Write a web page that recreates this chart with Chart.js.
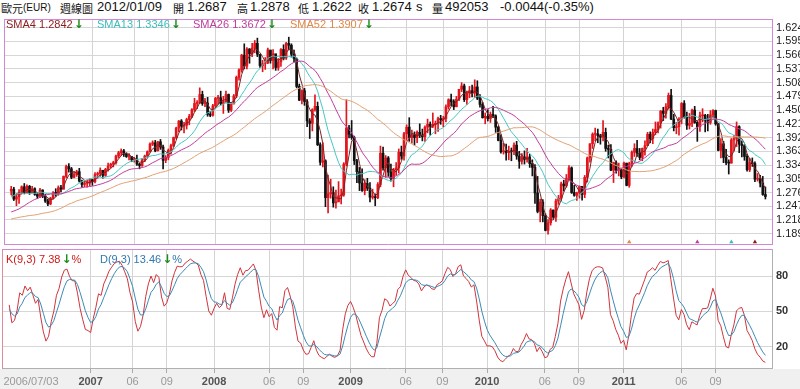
<!DOCTYPE html>
<html>
<head>
<meta charset="utf-8">
<script src="https://cdn.jsdelivr.net/npm/chart.js@4.4.0/dist/chart.umd.min.js"></script>
<style>
  body { margin: 0; width: 800px; height: 389px; background: #fff; position: relative; overflow: hidden;
         font-family: "Liberation Sans", Arial, "Noto Sans CJK TC", sans-serif; }
  #strip { position: absolute; left: 0; top: 369px; width: 800px; height: 20px; background: #f0f0f0; }
  canvas { position: absolute; left: 0; }
  #priceChart { top: 15px; }
  #kdChart { top: 249px; }
  .t { position: absolute; white-space: nowrap; line-height: 14px; }
  .hd { font-size: 13px; color: #111; top: 0; }
  .cj { font-size: 11px; font-family: "Noto Sans CJK TC", sans-serif; top: 1px; }
  .lg { font-size: 11px; top: 17px; }
  .kd { font-size: 11px; top: 252px; }
  .ar { color: #1c8c1c; font-weight: bold; font-family: "DejaVu Sans", sans-serif; font-size: 12px; margin-left: 1px; }
</style>
</head>
<body>
<div id="strip"></div>

<span class="t hd cj" style="left:1px">歐元</span>
<span class="t hd" style="left:23px;font-size:10px;top:1px">(EUR)</span>
<span class="t hd cj" style="left:60px">週線圖</span>
<span class="t hd" style="left:97px">2012/01/09</span>
<span class="t hd cj" style="left:173px">開</span>
<span class="t hd" style="left:187px">1.2687</span>
<span class="t hd cj" style="left:237px">高</span>
<span class="t hd" style="left:250px">1.2878</span>
<span class="t hd cj" style="left:298px">低</span>
<span class="t hd" style="left:312px">1.2622</span>
<span class="t hd cj" style="left:358px">收</span>
<span class="t hd" style="left:372px">1.2674</span>
<span class="t hd" style="left:416px">s</span>
<span class="t hd cj" style="left:432px">量</span>
<span class="t hd" style="left:445px">492053</span>
<span class="t hd" style="left:500px">-0.0044</span>
<span class="t hd" style="left:544px">(-0.35%)</span>

<canvas id="priceChart" width="800" height="234" style="width:800px;height:234px"></canvas>
<canvas id="kdChart" width="800" height="140" style="width:800px;height:140px"></canvas>

<span class="t lg" style="left:6px;color:#8a1c1c">SMA4 1.2842<span class="ar">↓</span></span>
<span class="t lg" style="left:97px;color:#3cbcbc">SMA13 1.3346<span class="ar">↓</span></span>
<span class="t lg" style="left:193px;color:#c03c9c">SMA26 1.3672<span class="ar">↓</span></span>
<span class="t lg" style="left:290px;color:#e08848">SMA52 1.3907<span class="ar">↓</span></span>

<span class="t kd" style="left:6px;color:#d01818">K(9,3) 7.38<span class="ar">↓</span>%</span>
<span class="t kd" style="left:100px;color:#2f78b0">D(9,3) 13.46<span class="ar">↓</span>%</span>

<script>
// weekly EUR candles, 2006/07/03 .. 2012/01/09 (one value per week)
const weekCloses = [
  1.283,1.262,1.267,1.276,1.288,1.276,1.289,1.276,1.284,1.272,1.268,1.281,1.268,1.258,1.252,1.264,1.275,1.274,1.286,1.283,1.310,1.331,1.326,1.308,1.314,1.320,
  1.300,1.293,1.296,1.296,1.303,1.299,1.314,1.316,1.323,1.312,1.325,1.332,1.336,1.339,1.353,1.360,1.364,1.357,1.352,1.352,1.345,1.346,1.336,1.333,1.345,1.353,1.362,1.378,1.381,1.364,1.383,1.372,1.344,1.350,1.365,1.375,1.392,1.412,1.427,1.416,1.418,1.430,1.437,1.451,1.464,1.465,1.483,1.464,1.465,1.441,1.439,1.459,
  1.475,1.476,1.464,1.468,1.483,1.450,1.463,1.480,1.519,1.535,1.566,1.543,1.579,1.569,1.581,1.591,1.568,1.544,1.548,1.550,1.577,1.555,1.569,1.540,1.552,1.578,1.560,1.591,1.587,1.568,1.559,1.500,1.471,1.491,1.468,1.427,1.422,1.451,1.458,1.377,1.340,1.343,1.265,1.273,1.276,1.254,1.256,1.269,1.271,1.336,1.412,1.399,
  1.392,1.343,1.320,1.296,1.280,1.295,1.285,1.266,1.267,1.265,1.293,1.359,1.328,1.349,1.319,1.305,1.324,1.328,1.361,1.353,1.400,1.414,1.392,1.398,1.392,1.403,1.397,1.394,1.414,1.420,1.416,1.420,1.422,1.432,1.430,1.432,1.457,1.472,1.468,1.457,1.473,1.494,1.501,1.472,1.486,1.491,1.486,1.499,1.475,1.462,1.434,1.437,
  1.432,1.441,1.438,1.414,1.386,1.362,1.363,1.360,1.363,1.362,1.376,1.353,1.342,1.351,1.346,1.351,1.337,1.329,1.275,1.236,1.256,1.227,1.196,1.212,1.239,1.224,1.258,1.264,1.294,1.290,1.306,1.328,1.276,1.270,1.275,1.289,1.272,1.308,1.349,1.379,1.399,1.400,1.396,1.393,1.403,1.369,1.367,1.323,1.339,1.323,1.323,1.309,
  1.338,1.291,1.337,1.361,1.369,1.359,1.350,1.369,1.375,1.399,1.390,1.403,1.409,1.423,1.448,1.443,1.457,1.481,1.431,1.413,1.415,1.431,1.464,1.435,1.418,1.422,1.450,1.424,1.415,1.438,1.439,1.429,1.424,1.440,1.449,1.421,1.365,1.379,1.350,1.339,1.338,1.387,1.390,1.415,1.378,1.375,1.352,1.324,1.339,1.337,1.304,1.305,1.296,1.2718,1.2674
];
const weekHighs = [
  1.289,1.287,1.273,1.282,1.290,1.295,1.292,1.291,1.289,1.286,1.275,1.285,1.282,1.272,1.262,1.266,1.278,1.284,1.290,1.291,1.311,1.334,1.337,1.329,1.320,1.323,
  1.327,1.302,1.300,1.302,1.305,1.304,1.318,1.319,1.328,1.323,1.327,1.338,1.338,1.342,1.355,1.363,1.368,1.367,1.360,1.358,1.351,1.350,1.355,1.338,1.348,1.355,1.364,1.381,1.385,1.386,1.384,1.388,1.376,1.354,1.368,1.378,1.393,1.414,1.428,1.430,1.424,1.433,1.441,1.453,1.475,1.470,1.497,1.490,1.475,1.477,1.447,1.462,
  1.477,1.481,1.490,1.479,1.490,1.484,1.466,1.483,1.522,1.537,1.568,1.590,1.582,1.580,1.591,1.597,1.602,1.567,1.555,1.561,1.581,1.575,1.578,1.568,1.559,1.580,1.588,1.593,1.604,1.590,1.577,1.560,1.505,1.493,1.496,1.472,1.432,1.453,1.482,1.467,1.381,1.381,1.345,1.313,1.304,1.288,1.281,1.299,1.283,1.339,1.472,1.418,
  1.428,1.395,1.346,1.329,1.326,1.303,1.306,1.297,1.283,1.273,1.297,1.374,1.372,1.354,1.352,1.336,1.327,1.339,1.368,1.374,1.403,1.419,1.434,1.408,1.404,1.406,1.421,1.410,1.417,1.431,1.425,1.444,1.427,1.435,1.439,1.437,1.461,1.474,1.484,1.472,1.479,1.494,1.508,1.505,1.490,1.500,1.503,1.514,1.512,1.483,1.466,1.444,
  1.451,1.446,1.458,1.440,1.416,1.398,1.380,1.378,1.374,1.370,1.381,1.384,1.363,1.358,1.364,1.369,1.357,1.345,1.335,1.310,1.262,1.261,1.231,1.219,1.242,1.239,1.262,1.270,1.298,1.302,1.314,1.333,1.330,1.291,1.277,1.290,1.288,1.312,1.351,1.379,1.402,1.412,1.410,1.399,1.428,1.412,1.376,1.377,1.340,1.343,1.338,1.326,
  1.340,1.338,1.340,1.364,1.379,1.386,1.369,1.370,1.385,1.403,1.404,1.410,1.425,1.425,1.449,1.456,1.464,1.486,1.494,1.441,1.424,1.434,1.466,1.470,1.446,1.443,1.452,1.458,1.426,1.446,1.453,1.441,1.441,1.449,1.451,1.450,1.422,1.390,1.384,1.367,1.345,1.390,1.397,1.425,1.417,1.385,1.377,1.357,1.348,1.349,1.341,1.316,1.312,1.310,1.2878
];
const weekLows = [
  1.271,1.259,1.248,1.253,1.273,1.273,1.275,1.272,1.276,1.270,1.263,1.265,1.265,1.255,1.248,1.250,1.262,1.268,1.270,1.277,1.283,1.307,1.319,1.305,1.307,1.310,
  1.298,1.287,1.288,1.287,1.290,1.291,1.296,1.306,1.310,1.306,1.310,1.321,1.328,1.330,1.336,1.349,1.354,1.352,1.350,1.345,1.341,1.340,1.333,1.326,1.331,1.341,1.351,1.361,1.375,1.362,1.364,1.367,1.326,1.339,1.345,1.357,1.373,1.389,1.404,1.408,1.402,1.410,1.419,1.434,1.447,1.453,1.464,1.460,1.457,1.437,1.436,1.437,
  1.455,1.462,1.461,1.443,1.466,1.445,1.447,1.463,1.476,1.513,1.530,1.537,1.537,1.549,1.563,1.571,1.563,1.540,1.531,1.536,1.548,1.549,1.537,1.534,1.534,1.542,1.556,1.557,1.577,1.562,1.552,1.497,1.470,1.463,1.460,1.415,1.390,1.406,1.448,1.375,1.334,1.330,1.246,1.233,1.264,1.245,1.243,1.257,1.252,1.268,1.332,1.391,
  1.388,1.335,1.297,1.280,1.278,1.271,1.280,1.256,1.262,1.248,1.263,1.288,1.323,1.308,1.310,1.300,1.288,1.312,1.317,1.346,1.344,1.386,1.384,1.380,1.376,1.381,1.392,1.385,1.384,1.402,1.397,1.413,1.400,1.405,1.420,1.415,1.425,1.452,1.459,1.451,1.457,1.470,1.489,1.468,1.462,1.476,1.478,1.477,1.472,1.456,1.433,1.421,
  1.427,1.424,1.434,1.403,1.385,1.359,1.357,1.344,1.345,1.343,1.356,1.346,1.327,1.336,1.336,1.340,1.329,1.311,1.253,1.233,1.214,1.214,1.195,1.188,1.207,1.221,1.215,1.251,1.258,1.279,1.287,1.302,1.274,1.268,1.259,1.264,1.260,1.265,1.298,1.340,1.369,1.385,1.381,1.378,1.385,1.363,1.349,1.322,1.297,1.317,1.311,1.305,
  1.307,1.290,1.287,1.331,1.352,1.352,1.345,1.343,1.355,1.375,1.381,1.379,1.398,1.402,1.412,1.428,1.433,1.452,1.430,1.406,1.400,1.397,1.421,1.433,1.409,1.410,1.415,1.422,1.384,1.405,1.425,1.404,1.406,1.420,1.433,1.418,1.364,1.349,1.339,1.335,1.315,1.338,1.364,1.373,1.360,1.351,1.344,1.321,1.320,1.331,1.299,1.300,1.288,1.270,1.2622
];
const firstOpen = 1.279;
// closes of the 51 weeks before the first bar, only used to start the moving averages
const warmupCloses = [
  1.203,1.212,1.212,1.236,1.241,1.225,1.232,1.252,1.238,1.224,1.209,1.203,1.214,1.203,1.201,1.208,1.179,1.168,1.170,1.173,1.164,1.180,1.204,1.189,1.184,1.214,
  1.213,1.210,1.215,1.201,1.191,1.190,1.188,1.203,1.191,1.222,1.200,1.212,1.213,1.212,1.235,1.262,1.275,1.292,1.282,1.274,1.290,1.263,1.264,1.249,1.279
];

const tickIdx = [8.3, 31, 47, 60, 78, 99, 112, 130, 151, 165, 182, 204, 217, 234, 256, 269];
const tickText = ['2006/07/03','2007','06','09','2008','06','09','2009','06','09','2010','06','09','2011','06','09'];
const priceTicks = [1.189,1.218,1.247,1.276,1.305,1.334,1.363,1.392,1.421,1.450,1.479,1.508,1.537,1.566,1.595,1.624];
const kdTicks = [20, 50, 80];
const signalIdx = [236, 262, 275, 284];
const signalColors = ['#e08848', '#c03c9c', '#3cbcbc', '#8a1c1c'];

const FONT = '"Liberation Sans", Arial, sans-serif';
const X_MIN = -2.75, X_MAX = 290.9;

// fx weeks open where the previous week closed
const weekOpens = weekCloses.map((c, i) => i === 0 ? firstOpen : weekCloses[i - 1]);

function sma(n) {
  const all = warmupCloses.concat(weekCloses);
  return weekCloses.map((_, i) => {
    const end = warmupCloses.length + i;
    const win = all.slice(Math.max(0, end - n + 1), end + 1);
    return win.reduce((a, b) => a + b, 0) / win.length;
  });
}

// stochastic K(9,3) / D(9,3)
const kLine = [], dLine = [];
let k = 50, d = 50;
weekCloses.forEach((c, i) => {
  const from = Math.max(0, i - 8);
  const hi = Math.max(...weekHighs.slice(from, i + 1));
  const lo = Math.min(...weekLows.slice(from, i + 1));
  const rsv = hi > lo ? (c - lo) / (hi - lo) * 100 : 50;
  k = k * 2 / 3 + rsv / 3;
  d = d * 2 / 3 + k / 3;
  kLine.push(k);
  dLine.push(d);
});

const pts = arr => arr.map((v, i) => ({ x: i, y: v }));
const candleColor = ctx => weekCloses[ctx.dataIndex] >= weekOpens[ctx.dataIndex] ? '#e3141c' : '#111';
const isYear = i => (tickText[i] || '').length === 4;
// keep the plot area on the panel edges: no extra room for first/last tick labels
const noPad = s => { s.paddingTop = 0; s.paddingBottom = 0; s.paddingLeft = 0; s.paddingRight = 0; };

const framePlugin = {
  id: 'frame',
  afterDatasetsDraw(chart, args, o) {
    const { ctx, chartArea: a } = chart;
    ctx.save();
    ctx.lineWidth = 1;
    const side = (col, x1, y1, x2, y2) => {
      if (!col) return;
      ctx.strokeStyle = col;
      ctx.beginPath(); ctx.moveTo(x1, y1); ctx.lineTo(x2, y2); ctx.stroke();
    };
    side(o.top, a.left, a.top + 0.5, a.right, a.top + 0.5);
    side(o.bottom, a.left, a.bottom - 0.5, a.right, a.bottom - 0.5);
    side(o.left, a.left + 0.5, a.top, a.left + 0.5, a.bottom);
    side(o.right, a.right - 0.5, a.top, a.right - 0.5, a.bottom);
    ctx.restore();
  }
};

const line = (data, color) => ({
  type: 'line', data: pts(data), borderColor: color, borderWidth: 1,
  pointRadius: 0, tension: 0, order: 1
});

new Chart(document.getElementById('priceChart'), {
  type: 'bar',
  data: {
    datasets: [
      line(sma(52), '#e2a072'),
      line(sma(26), '#c03c9c'),
      line(sma(13), '#44c8c4'),
      line(sma(4), '#7a2424'),
      {
        data: weekHighs.map((h, i) => ({ x: i, y: [weekLows[i], h] })),
        backgroundColor: candleColor, barThickness: 1, grouped: false, order: 3
      },
      {
        data: weekCloses.map((c, i) => ({ x: i, y: [weekOpens[i], c] })),
        backgroundColor: candleColor, barThickness: 2, grouped: false, minBarLength: 1, order: 2
      },
      {
        type: 'scatter', data: signalIdx.map(v => ({ x: v, y: 1.1715 })),
        pointStyle: 'triangle', pointRadius: 2.5, backgroundColor: signalColors,
        borderWidth: 0, order: 0
      }
    ]
  },
  options: {
    responsive: false,
    animation: false,
    layout: { padding: { left: 2, right: 0, top: 0, bottom: 0 } },
    plugins: {
      legend: { display: false },
      tooltip: { enabled: false },
      frame: { top: '#d487d4', bottom: '#d487d4', left: '#d487d4', right: '#d487d4' }
    },
    scales: {
      x: {
        type: 'linear', min: X_MIN, max: X_MAX, offset: false,
        afterBuildTicks: s => { s.ticks = tickIdx.map(v => ({ value: v })); },
        afterFit: s => { s.height = 0; noPad(s); },
        ticks: { display: false },
        grid: { offset: false, drawTicks: false, color: c => c.index === 0 ? 'rgba(0,0,0,0)' : '#d4d4d4' },
        border: { display: false }
      },
      y: {
        position: 'right', min: 1.1651, max: 1.6424,
        afterBuildTicks: s => { s.ticks = priceTicks.map(v => ({ value: v })); },
        afterFit: s => { s.width = 27; noPad(s); },
        ticks: { autoSkip: false, padding: 3, color: '#222', font: { size: 11, family: FONT }, callback: v => v.toFixed(3) },
        grid: { color: '#d6d6d6', drawTicks: false },
        border: { display: false }
      }
    }
  },
  plugins: [framePlugin]
});

new Chart(document.getElementById('kdChart'), {
  type: 'line',
  data: {
    datasets: [
      { data: pts(dLine), borderColor: '#3c8ab4', borderWidth: 1, pointRadius: 0, tension: 0 },
      { data: pts(kLine), borderColor: '#d0343c', borderWidth: 1, pointRadius: 0, tension: 0 }
    ]
  },
  options: {
    responsive: false,
    animation: false,
    layout: { padding: { left: 2, right: 0, top: 0, bottom: 0 } },
    plugins: {
      legend: { display: false },
      tooltip: { enabled: false },
      frame: { top: '#d487d4', left: '#e08a9a', right: '#b0b0b0', bottom: '#b0b0b0' }
    },
    scales: {
      x: {
        type: 'linear', min: X_MIN, max: X_MAX, offset: false,
        afterBuildTicks: s => { s.ticks = tickIdx.map(v => ({ value: v })); },
        afterFit: s => { s.height = 20; noPad(s); },
        ticks: {
          autoSkip: false, maxRotation: 0, padding: 2,
          callback: (v, i) => tickText[i],
          color: c => isYear(c.index) ? '#555' : '#999',
          font: c => ({ size: 11, family: FONT, weight: isYear(c.index) ? 'bold' : 'normal' })
        },
        grid: {
          offset: false, tickLength: 4,
          color: c => c.index === 0 ? 'rgba(0,0,0,0)' : '#d4d4d4',
          tickColor: c => c.index === 0 ? 'rgba(0,0,0,0)' : '#aaa'
        },
        border: { display: false }
      },
      y: {
        position: 'right', min: 1.2, max: 102.9,
        afterBuildTicks: s => { s.ticks = kdTicks.map(v => ({ value: v })); },
        afterFit: s => { s.width = 27; noPad(s); },
        ticks: { autoSkip: false, padding: 3, color: '#333', font: { size: 11, family: FONT, weight: 'bold' } },
        grid: { color: '#d6d6d6', drawTicks: false },
        border: { display: false }
      }
    }
  },
  plugins: [framePlugin]
});
</script>
</body>
</html>
